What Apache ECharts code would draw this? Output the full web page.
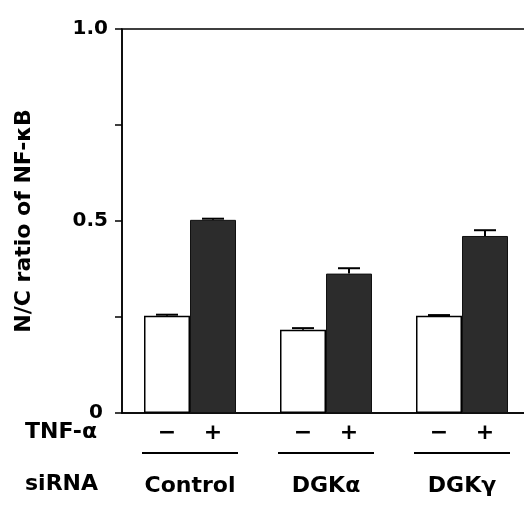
<!DOCTYPE html>
<html>
<head>
<meta charset="utf-8">
<script src="https://cdn.jsdelivr.net/npm/echarts@6/dist/echarts.min.js"></script>
<style>
  html, body { margin: 0; padding: 0; background: #fff; }
  #chart { width: 524px; height: 506px; }
</style>
</head>
<body>
<div id="chart"></div>
<script>
// data
const categories = ['Control', 'DGKα', 'DGKγ'];
const minusValues = [0.253, 0.217, 0.253]; // TNF-α −
const plusValues = [0.503, 0.363, 0.461]; // TNF-α +
const minusErr = [0.003, 0.004, 0.002];
const plusErr = [0.003, 0.014, 0.015];
const yTicks = [0, 0.25, 0.5, 0.75, 1.0];
const yLabels = { 0: '0', 0.5: '0.5', 1: '1.0' };

const FONT = 'DejaVu Sans';
const BAR_W = 46;

const chart = echarts.init(document.getElementById('chart'));

// error bar items: [categoryIndex, value, err, side]
const errData = [];
categories.forEach((c, i) => {
  errData.push([i, minusValues[i], minusErr[i], -1]);
  errData.push([i, plusValues[i], plusErr[i], 1]);
});

function renderErr(params, api) {
  const i = api.value(0);
  const v = api.value(1);
  const e = api.value(2);
  const side = api.value(3);
  const top = api.coord([i, v]);
  const hi = api.coord([i, v + e]);
  const x = top[0] + side * BAR_W / 2;
  const style = { stroke: '#000', lineWidth: 2 };
  return {
    type: 'group',
    children: [
      { type: 'line', shape: { x1: x, y1: top[1], x2: x, y2: hi[1] }, style },
      { type: 'line', shape: { x1: x - 11, y1: hi[1], x2: x + 11, y2: hi[1] }, style },
    ],
  };
}

const option = {
  animation: false,
  textStyle: { fontFamily: FONT },
  grid: {
    left: 122,
    top: 29,
    width: 408,
    height: 384,
    outerBoundsMode: 'none',
    containLabel: false,
    show: true,
    borderColor: '#000',
    borderWidth: 1.5,
    backgroundColor: 'transparent',
  },
  xAxis: {
    type: 'category',
    data: categories,
    axisTick: { show: false },
    axisLine: { lineStyle: { color: '#000', width: 1.5 } },
    axisLabel: {
      margin: 8,
      interval: 0,
      formatter(name) {
        return `{pm|−}{pm|+}\n{ul|}\n{nm|${name}}`;
      },
      rich: {
        pm: { width: BAR_W, align: 'center', fontSize: 22, fontWeight: 'bold', fontFamily: FONT, color: '#000', lineHeight: 24 },
        ul: { width: 96, height: 2, backgroundColor: '#000', lineHeight: 16 },
        nm: { fontSize: 22, fontWeight: 'bold', fontFamily: FONT, color: '#000', lineHeight: 50 },
      },
    },
  },
  yAxis: {
    type: 'value',
    min: yTicks[0],
    max: yTicks[yTicks.length - 1],
    interval: 0.25,
    name: 'N/C ratio of NF-κB',
    nameLocation: 'middle',
    nameGap: 87,
    nameRotate: 90,
    nameTextStyle: { fontSize: 22, fontWeight: 'bold', fontFamily: FONT, color: '#000' },
    splitLine: { show: false },
    axisLine: { show: true, lineStyle: { color: '#000', width: 1.5 } },
    axisTick: { show: true, length: 7, lineStyle: { color: '#000', width: 1.5 } },
    axisLabel: {
      margin: 14,
      fontSize: 20,
      fontWeight: 'bold',
      fontFamily: FONT,
      color: '#000',
      formatter(v) {
        if (v === 0) return '{z|0}';
        return yLabels[v] || '';
      },
      rich: {
        z: { fontSize: 20, fontWeight: 'bold', fontFamily: FONT, color: '#000', padding: [0, 5, 0, 0] },
      },
    },
  },
  graphic: [
    { type: 'text', left: 25, top: 421, style: { text: 'TNF-α', font: `bold 22px "${FONT}"`, fill: '#000' } },
    { type: 'text', left: 25, top: 473, style: { text: 'siRNA', font: `bold 22px "${FONT}"`, fill: '#000' } },
  ],
  series: [
    {
      name: 'TNF-α −',
      type: 'bar',
      data: minusValues,
      barWidth: BAR_W,
      barGap: '0%',
      itemStyle: { color: '#fff', borderColor: '#000', borderWidth: 1.5 },
    },
    {
      name: 'TNF-α +',
      type: 'bar',
      data: plusValues,
      barWidth: BAR_W,
      barGap: '0%',
      itemStyle: { color: '#2c2c2c', borderColor: '#111', borderWidth: 1 },
    },
    {
      name: 'error',
      type: 'custom',
      renderItem: renderErr,
      data: errData,
      z: 5,
    },
  ],
};

chart.setOption(option);
</script>
</body>
</html>
